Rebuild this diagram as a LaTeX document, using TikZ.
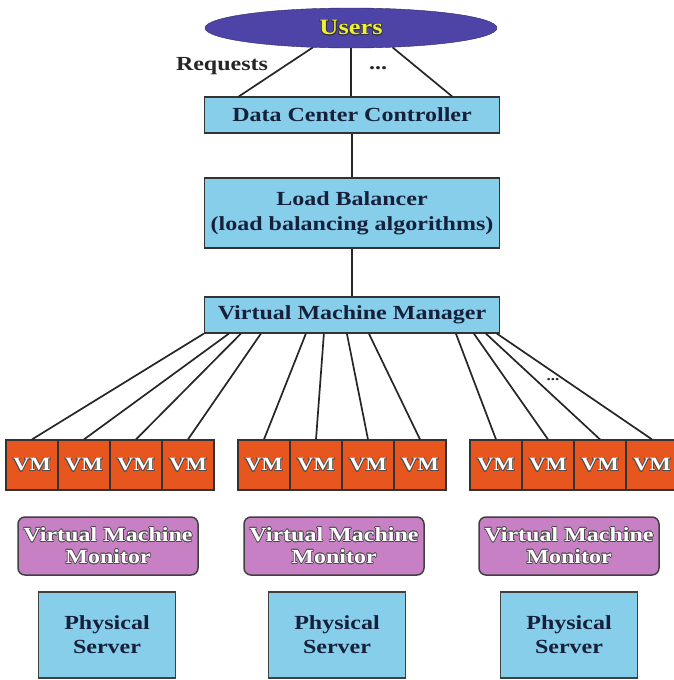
\documentclass[tikz,border=0pt]{standalone}
\usepackage{fontspec}
\setmainfont{Liberation Serif}[FakeStretch=1.2]
\usepackage{contour}
\usetikzlibrary{shapes,arrows,positioning}
\contourlength{0.6pt}
\definecolor{skyblue}{RGB}{135,206,235}
\definecolor{usersblue}{RGB}{78,68,168}
\definecolor{usersyellow}{RGB}{238,238,60}
\definecolor{vmorange}{RGB}{232,86,32}
\definecolor{vmmpink}{RGB}{200,128,196}
\definecolor{navytext}{RGB}{22,32,58}
\newcommand{\emb}[1]{\contour{black!70}{\textcolor{white}{#1}}}
\tikzstyle{block} = [rectangle, draw=black!80, fill=skyblue, text=navytext,
    font=\bfseries\fontsize{20}{25}\selectfont, align=center,
    minimum width=295pt, line width=1.2pt]
\tikzstyle{vm} = [rectangle, draw=black!80, fill=vmorange, inner sep=0pt,
    font=\bfseries\fontsize{19}{22}\selectfont, minimum width=52pt,
    minimum height=50pt, line width=1.2pt]
\tikzstyle{vmmon} = [rectangle, draw=black!75, fill=vmmpink, rounded corners=7pt,
    font=\bfseries\fontsize{20}{22}\selectfont, align=center,
    minimum width=180pt, minimum height=58pt, line width=1.5pt]
\tikzstyle{server} = [rectangle, draw=black!75, fill=skyblue, text=navytext,
    font=\bfseries\fontsize{20}{24}\selectfont, align=center,
    minimum width=137pt, minimum height=86pt, line width=1.2pt]
\tikzstyle{label} = [font=\bfseries\fontsize{20}{24}\selectfont, text=black!85]
\tikzstyle{line} = [draw, black!85, line width=1.7pt]

\begin{document}
\begin{tikzpicture}[x=1pt, y=-1pt]
\useasboundingbox (0,0) rectangle (673,680);
\node [ellipse, draw=usersblue!60!black, fill=usersblue, minimum width=292pt,
    minimum height=40pt, inner sep=0pt, font=\bfseries\fontsize{22}{24}\selectfont]
    (users) at (351,28) {\contour{black!80}{\textcolor{usersyellow}{Users}}};
\node [block, minimum height=36pt] (dcc) at (352,115) {Data Center Controller};
\node [block, below of=dcc, node distance=98pt, minimum height=70pt] (lb)
    {Load Balancer\\(load balancing algorithms)};
\node [block, below of=lb, node distance=102pt, minimum height=36pt] (vmm)
    {Virtual Machine Manager};
\node [label] (req) at (222,66) {Requests};
\node [label] (udots) at (378,68) {...};
\node [label, font=\bfseries\fontsize{14}{16}\selectfont] (vdots) at (553,380) {...};
\foreach \g/\x in {1/6,2/238,3/470}
  \foreach \i in {1,...,4}
    \node [vm] (vm-\g-\i) at (\x+52*\i-26,465) {\emb{VM}};
\foreach \g/\mx/\sx in {1/108/107,2/334/337,3/569/569} {
  \node [vmmon] (mon-\g) at (\mx,546) {\emb{Virtual Machine}\\\emb{Monitor}};
  \node [server] (srv-\g) at (\sx,635) {Physical\\Server};
}
\path [line] (users.207) -- ([xshift=35pt]dcc.north west);
\path [line] (users.south) -- (users.south |- dcc.north);
\path [line] (users.335) -- ([xshift=-48pt]dcc.north east);
\path [line] (dcc) -- (lb);
\path [line] (lb) -- (vmm);
\foreach \g/\i/\d in {1/1/0,1/2/25,1/3/37,1/4/57,2/1/102,2/2/120,2/3/143,
    2/4/165,3/1/252,3/2/270,3/3/282,3/4/293}
  \path [line] ([xshift=\d pt]vmm.south west) -- (vm-\g-\i.north);
\end{tikzpicture}
\end{document}
